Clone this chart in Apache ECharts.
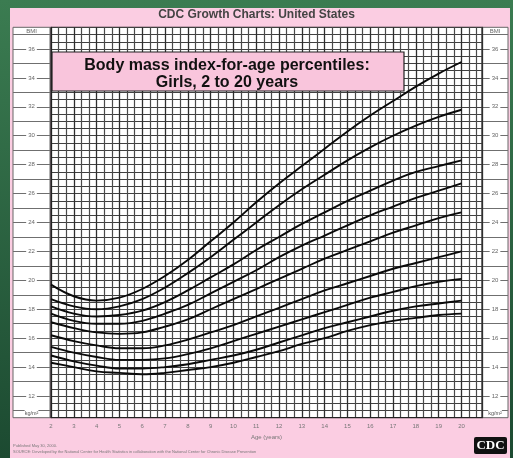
<!DOCTYPE html>
<html><head><meta charset="utf-8">
<script src="https://cdn.jsdelivr.net/npm/echarts@6/dist/echarts.min.js"></script>
<style>
html,body{margin:0;padding:0;background:linear-gradient(#3b7c51,#1c4a31);}
#c{width:513px;height:458px;}
</style></head><body><div id="c"></div>
<script>
const ages = [2,3,4,5,6,7,8,9,10,11,12,13,14,15,16,17,18,19,20];
const p97 = [19.7,18.9,18.6,18.8,19.4,20.3,21.4,22.7,24.0,25.4,26.7,27.9,29.1,30.3,31.4,32.4,33.4,34.3,35.1];
const p95 = [18.7,18.2,18.0,18.2,18.7,19.5,20.5,21.6,22.8,24.0,25.2,26.3,27.3,28.3,29.2,30.0,30.7,31.3,31.8];
const p90 = [18.2,17.7,17.5,17.6,17.9,18.5,19.3,20.2,21.1,22.1,23.0,23.9,24.7,25.5,26.2,26.9,27.5,27.9,28.3];
const p85 = [17.7,17.2,17.0,17.0,17.2,17.7,18.3,19.1,19.9,20.7,21.6,22.4,23.1,23.8,24.5,25.1,25.7,26.2,26.7];
const p75 = [17.1,16.7,16.4,16.3,16.4,16.8,17.3,18.0,18.7,19.4,20.1,20.8,21.5,22.1,22.7,23.3,23.8,24.3,24.7];
const p50 = [16.2,15.8,15.5,15.3,15.3,15.5,15.9,16.4,16.9,17.5,18.1,18.7,19.3,19.8,20.3,20.8,21.2,21.6,22.0];
const p25 = [15.4,15.0,14.7,14.5,14.5,14.6,14.9,15.3,15.8,16.3,16.8,17.3,17.8,18.3,18.8,19.2,19.6,19.9,20.1];
const p10 = [14.8,14.4,14.1,13.9,13.9,14.0,14.2,14.5,14.8,15.2,15.7,16.2,16.7,17.1,17.5,17.9,18.2,18.4,18.6];
const p5  = [14.3,14.0,13.7,13.6,13.5,13.6,13.8,14.0,14.3,14.7,15.1,15.6,16.0,16.5,16.9,17.2,17.4,17.6,17.7];
const percentileNames = ['97th','95th','90th','85th','75th','50th','25th','10th','5th'];
const percentileValues = [p97,p95,p90,p85,p75,p50,p25,p10,p5];
const bmiTickLabels = [12,14,16,18,20,22,24,26,28,30,32,34,36];
const ageTickLabels = [2,3,4,5,6,7,8,9,10,11,12,13,14,15,16,17,18,19,20];

const chart = echarts.init(document.getElementById('c'));
const TOP = 27.3, H = 390.4, YMIN = 10.5, YMAX = 37.5;
const PXU = H / (YMAX - YMIN);

const series = percentileValues.map((vals, k) => ({
  type: 'line', xAxisIndex: 0, yAxisIndex: 0, smooth: 0.4, showSymbol: false, symbol: 'none',
  silent: true, z: 5,
  lineStyle: { color: '#0a0a0a', width: 1.9 },
  data: ages.map((a, i) => i === ages.length - 1 ? {
      value: [a, vals[i]],
      label: { show: true, position: 'right', distance: 8, rotate: 90, align: 'center', verticalAlign: 'middle',
               formatter: percentileNames[k], fontSize: 6, color: '#666', fontFamily: 'Liberation Sans',
               backgroundColor: '#fff', padding: [0, 1] }
    } : [a, vals[i]])
}));

// strip grids span integer BMI 11..37 so their ticks fall on whole units
const S_TOP = TOP + (YMAX - 37) * PXU, S_H = 26 * PXU;
const stripY = (idx, side) => ({
  type: 'value', gridIndex: idx, min: 11, max: 37, interval: 1,
  axisLine: { show: false }, axisTick: { show: false },
  splitLine: { show: true, lineStyle: { color: '#6f6f6f', width: 1 } },
  axisLabel: {
    show: true, inside: true, margin: side === 'l' ? 18.5 : 13, align: 'center',
    fontSize: 6, color: '#666', fontFamily: 'Liberation Sans', backgroundColor: '#fff', padding: [0, 2],
    formatter: v => bmiTickLabels.indexOf(v) >= 0 ? String(v) : ''
  }
});

const option = {
  backgroundColor: 'transparent',
  animation: false,
  grid: [
    { left: 51, top: TOP, width: 431, height: H, show: true, backgroundColor: '#fff', borderColor: '#222', borderWidth: 1.2 },
    { left: 13, top: S_TOP, width: 37, height: S_H },
    { left: 482, top: S_TOP, width: 26, height: S_H }
  ],
  xAxis: [
    { type: 'value', gridIndex: 0, min: 2, max: 20.9, interval: 1,
      axisLine: { show: true, lineStyle: { color: '#222' } }, axisTick: { show: false },
      splitLine: { show: true, lineStyle: { color: '#2e2e2e', width: 1.3 } },
      minorTick: { show: false, splitNumber: 3 },
      minorSplitLine: { show: true, lineStyle: { color: '#4a4a4a', width: 1.2 } },
      axisLabel: { show: true, margin: 6, fontSize: 6, color: '#777', fontFamily: 'Liberation Sans',
        formatter: v => ageTickLabels.indexOf(v) >= 0 ? String(v) : '' },
      name: 'Age (years)', nameLocation: 'middle', nameGap: 17,
      nameTextStyle: { fontSize: 6, color: '#777', fontFamily: 'Liberation Sans' } },
    { type: 'value', gridIndex: 1, min: 0, max: 1, show: false },
    { type: 'value', gridIndex: 2, min: 0, max: 1, show: false }
  ],
  yAxis: [
    { type: 'value', gridIndex: 0, min: YMIN, max: YMAX, interval: 0.5,
      axisLine: { show: true, lineStyle: { color: '#222' } }, axisTick: { show: false }, axisLabel: { show: false },
      splitLine: { show: true, lineStyle: { color: '#404040', width: 1.2 } } },
    stripY(1, 'l'),
    stripY(2, 'r')
  ],
  graphic: [
    { type: 'rect', z: -10, shape: { x: 10, y: 8, width: 500, height: 450 }, style: { fill: '#fbcde2' } },
    { type: 'rect', z: -9, shape: { x: 13, y: TOP, width: 37, height: H }, style: { fill: '#fff', stroke: '#666', lineWidth: 1 } },
    { type: 'rect', z: -9, shape: { x: 482, y: TOP, width: 26, height: H }, style: { fill: '#fff', stroke: '#666', lineWidth: 1 } },
    { type: 'text', z: 10, left: 'center', top: 9, style: { text: 'CDC Growth Charts: United States', fontSize: 12,
      fontWeight: 'bold', fill: '#444', fontFamily: 'Liberation Sans' } },
    { type: 'rect', z: 100, shape: { x: 52, y: 52, width: 352, height: 39 }, style: { fill: '#f9c5dc', stroke: '#222', lineWidth: 1.2 } },
    { type: 'text', z: 101, x: 227, y: 66, style: { text: 'Body mass index-for-age percentiles:', fontSize: 16, fontWeight: 'bold',
      fill: '#111', align: 'center', verticalAlign: 'middle', fontFamily: 'Liberation Sans' } },
    { type: 'text', z: 101, x: 227, y: 83, style: { text: 'Girls, 2 to 20 years', fontSize: 16, fontWeight: 'bold',
      fill: '#111', align: 'center', verticalAlign: 'middle', fontFamily: 'Liberation Sans' } },
    { type: 'text', z: 101, x: 31.5, y: 31, style: { text: 'BMI', fontSize: 6, fill: '#666', align: 'center', verticalAlign: 'middle', backgroundColor: '#fff', fontFamily: 'Liberation Sans' } },
    { type: 'text', z: 101, x: 495, y: 31, style: { text: 'BMI', fontSize: 6, fill: '#666', align: 'center', verticalAlign: 'middle', backgroundColor: '#fff', fontFamily: 'Liberation Sans' } },
    { type: 'text', z: 101, x: 31.5, y: 413, style: { text: 'kg/m²', fontSize: 5.5, fill: '#555', align: 'center', verticalAlign: 'middle', backgroundColor: '#fff', fontFamily: 'Liberation Sans' } },
    { type: 'text', z: 101, x: 495, y: 413, style: { text: 'kg/m²', fontSize: 5.5, fill: '#555', align: 'center', verticalAlign: 'middle', backgroundColor: '#fff', fontFamily: 'Liberation Sans' } },
    { type: 'text', z: 10, x: 13, y: 444, style: { text: 'Published May 30, 2000.', fontSize: 4, fill: '#777', fontFamily: 'Liberation Sans' } },
    { type: 'text', z: 10, x: 13, y: 450, style: { text: 'SOURCE: Developed by the National Center for Health Statistics in collaboration with the National Center for Chronic Disease Prevention', fontSize: 4, fill: '#777', fontFamily: 'Liberation Sans' } },
    { type: 'rect', z: 10, shape: { x: 474, y: 437, width: 33, height: 17, r: 2 }, style: { fill: '#111' } },
    { type: 'text', z: 11, x: 490.5, y: 446, style: { text: 'CDC', fontSize: 13, fontWeight: 'bold', fill: '#fff', align: 'center', verticalAlign: 'middle', fontFamily: 'Liberation Serif' } }
  ],
  series: series
};
chart.setOption(option);
</script></body></html>
